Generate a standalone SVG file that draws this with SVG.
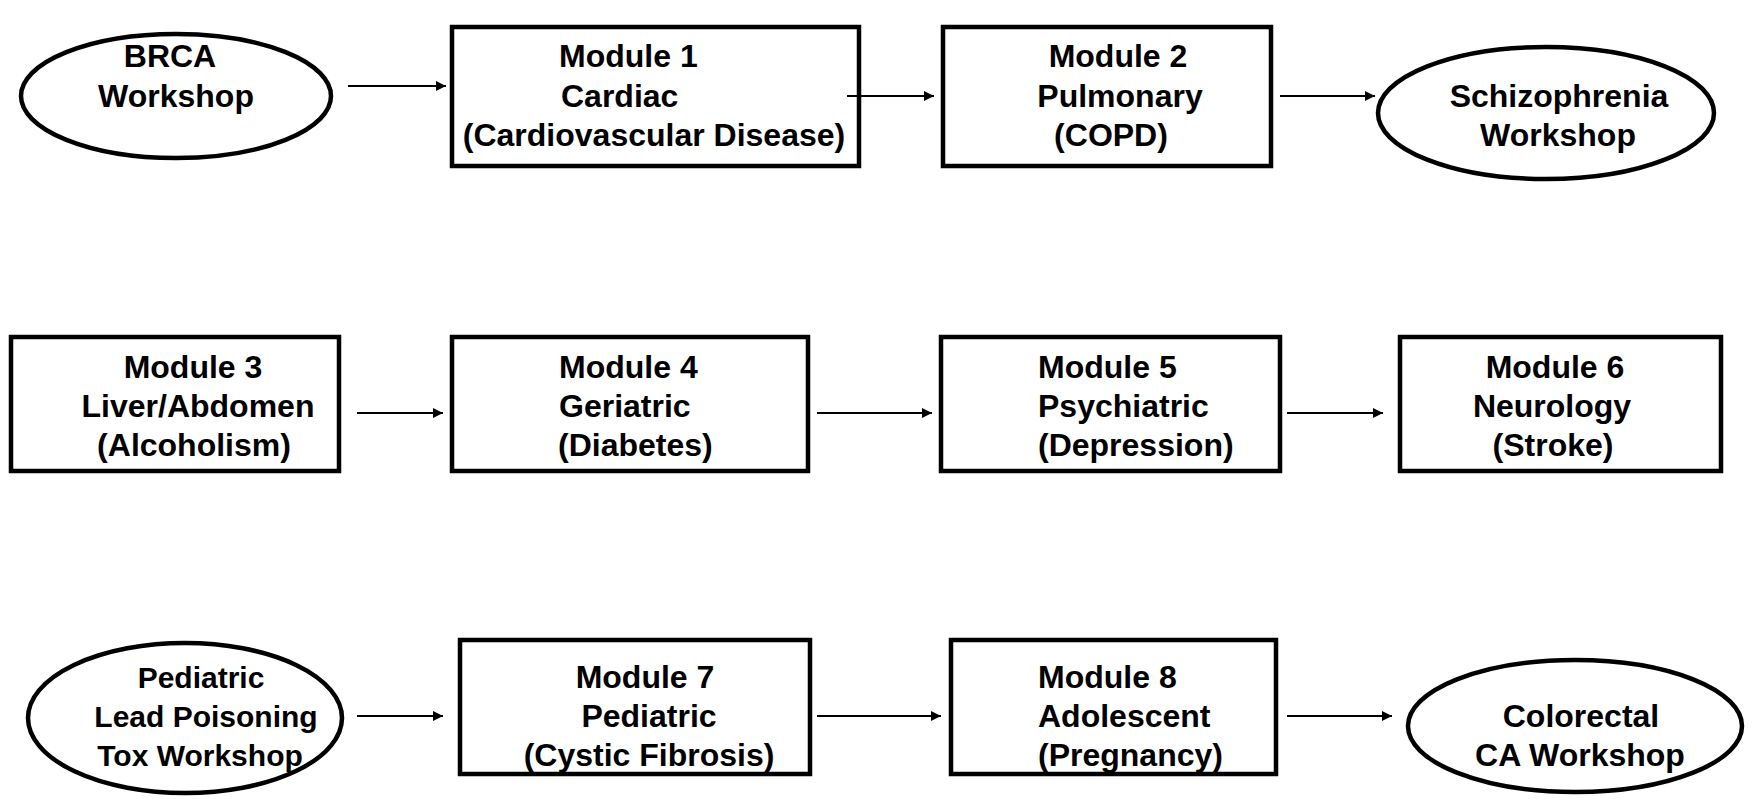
<svg xmlns="http://www.w3.org/2000/svg" width="1760" height="799" viewBox="0 0 1760 799">
<defs>
<marker id="ah" viewBox="0 0 10 10" refX="10" refY="5" markerWidth="10" markerHeight="10" markerUnits="userSpaceOnUse" orient="auto">
<path d="M0,0 L10,5 L0,10 z" fill="#000"/>
</marker>
</defs>
<style>
rect.n{fill:#fff;stroke:#000;stroke-width:4.5}
ellipse.n{fill:#fff;stroke:#000;stroke-width:4.5}
text{font-family:"Liberation Sans",Arial,sans-serif;font-weight:bold;font-size:32px;fill:#000;text-anchor:middle}
text.l{text-anchor:start}
text.s{font-size:30px}
.c line{stroke:#000;stroke-width:2;marker-end:url(#ah)}
</style>
<g id="brca"><ellipse class="n" cx="176" cy="96" rx="155" ry="62"/><text x="170" y="67">BRCA</text><text x="176" y="107">Workshop</text></g>
<g id="m1"><rect class="n" x="452" y="27" width="407" height="139"/><text class="l" x="559" y="67">Module 1</text><text class="l" x="561" y="107">Cardiac</text><text x="654" y="146">(Cardiovascular Disease)</text></g>
<g id="m2"><rect class="n" x="943" y="27" width="328" height="139"/><text x="1118" y="67">Module 2</text><text x="1120" y="107">Pulmonary</text><text x="1111" y="146">(COPD)</text></g>
<g id="schizo"><ellipse class="n" cx="1546" cy="113" rx="168" ry="66"/><text x="1559" y="107">Schizophrenia</text><text x="1558" y="146">Workshop</text></g>
<g id="m3"><rect class="n" x="11" y="337" width="328" height="134"/><text x="193" y="378">Module 3</text><text x="198" y="417">Liver/Abdomen</text><text x="194" y="456">(Alcoholism)</text></g>
<g id="m4"><rect class="n" x="452" y="337" width="356" height="134"/><text class="l" x="559" y="378">Module 4</text><text class="l" x="559" y="417">Geriatric</text><text class="l" x="558" y="456">(Diabetes)</text></g>
<g id="m5"><rect class="n" x="941" y="337" width="339" height="134"/><text class="l" x="1038" y="378">Module 5</text><text class="l" x="1038" y="417">Psychiatric</text><text class="l" x="1038" y="456">(Depression)</text></g>
<g id="m6"><rect class="n" x="1400" y="337" width="321" height="134"/><text x="1555" y="378">Module 6</text><text x="1552" y="417">Neurology</text><text x="1553" y="456">(Stroke)</text></g>
<g id="ped"><ellipse class="n" cx="185" cy="718" rx="157" ry="75"/><text class="s" x="201" y="688">Pediatric</text><text class="s" x="206" y="727">Lead Poisoning</text><text class="s" x="200" y="766">Tox Workshop</text></g>
<g id="m7"><rect class="n" x="460" y="640" width="350" height="134"/><text x="645" y="688">Module 7</text><text x="649" y="727">Pediatric</text><text x="649" y="766">(Cystic Fibrosis)</text></g>
<g id="m8"><rect class="n" x="951" y="640" width="325" height="134"/><text class="l" x="1038" y="688">Module 8</text><text class="l" x="1038" y="727">Adolescent</text><text class="l" x="1038" y="766">(Pregnancy)</text></g>
<g id="colo"><ellipse class="n" cx="1575" cy="726" rx="167" ry="66"/><text x="1581" y="727">Colorectal</text><text x="1580" y="766">CA Workshop</text></g>
<g class="c" id="connectors">
<line x1="348" y1="86" x2="446" y2="86"/>
<line x1="847" y1="96" x2="934" y2="96"/>
<line x1="1280" y1="96" x2="1375" y2="96"/>
<line x1="357" y1="413" x2="443" y2="413"/>
<line x1="817" y1="413" x2="932" y2="413"/>
<line x1="1287" y1="413" x2="1383" y2="413"/>
<line x1="357" y1="716" x2="443" y2="716"/>
<line x1="817" y1="716" x2="941" y2="716"/>
<line x1="1287" y1="716" x2="1392" y2="716"/>
</g>
</svg>
